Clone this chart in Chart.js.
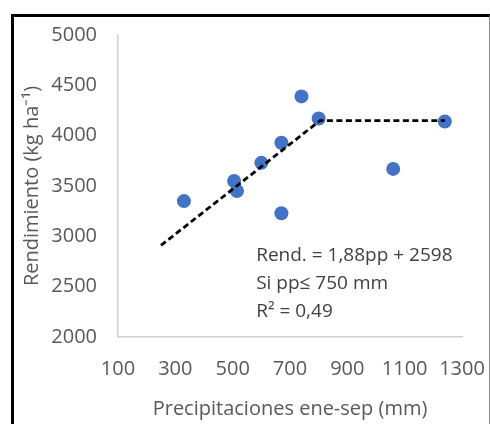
<!DOCTYPE html>
<html>
<head>
<meta charset="utf-8">
<script src="https://cdn.jsdelivr.net/npm/chart.js@4.4.1/dist/chart.umd.min.js"></script>
<style>
  html, body { margin: 0; padding: 0; background: #fff; }
  #wrap { position: relative; width: 490px; height: 424px; overflow: hidden; }
  #frame { position: absolute; left: 11px; top: 14px; width: 475px; height: 420px;
           border-left: 3px solid #000; border-top: 3px solid #000; border-right: 1px solid #888; }
  canvas { position: absolute; left: 0; top: 0; }
</style>
</head>
<body>
<div id="wrap">
  <div id="frame"></div>
  <canvas id="c" width="490" height="424"></canvas>
</div>
<script>
// Observed data (precipitation Jan-Sep, mm ; yield kg/ha)
const precipitation = [330, 505, 515, 600, 670, 670, 740, 800, 1060, 1240];
const yieldValues   = [3350, 3550, 3450, 3730, 3930, 3230, 4390, 4170, 3670, 4140];

// Fitted plateau model line (breakpoints)
const fitX = [250, 805, 1240];
const fitY = [2910, 4150, 4150];

// Axis ticks
const xTicks = [100, 300, 500, 700, 900, 1100, 1300];
const yTicks = [2000, 2500, 3000, 3500, 4000, 4500, 5000];

// Annotation text and its anchor in data units
const annotationLines = ['Rend. = 1,88pp + 2598', 'Si pp\u2264 750 mm', 'R\u00b2 = 0,49'];
const annotationAnchor = { x: 582, y: 2810 };

const FONT = "'Open Sans', sans-serif";
const GRAY = '#595959';

const annotationPlugin = {
  id: 'annot',
  afterDatasetsDraw(chart) {
    const { ctx, scales } = chart;
    const x = scales.x.getPixelForValue(annotationAnchor.x);
    const y0 = scales.y.getPixelForValue(annotationAnchor.y);
    ctx.save();
    ctx.fillStyle = '#404040';
    ctx.font = '19px ' + FONT;
    ctx.textAlign = 'left';
    ctx.textBaseline = 'middle';
    annotationLines.forEach((t, i) => ctx.fillText(t, x, y0 + i * 28));
    ctx.restore();
  }
};

new Chart(document.getElementById('c'), {
  type: 'scatter',
  data: {
    datasets: [
      {
        label: 'Modelo',
        type: 'line',
        data: fitX.map((x, i) => ({ x, y: fitY[i] })),
        borderColor: '#000',
        borderWidth: 2.8,
        borderDash: [6, 3.5],
        pointRadius: 0,
        fill: false,
        tension: 0,
        order: 1
      },
      {
        label: 'Observado',
        data: precipitation.map((x, i) => ({ x, y: yieldValues[i] })),
        backgroundColor: '#4472C4',
        borderColor: '#4472C4',
        borderWidth: 0,
        pointRadius: 7,
        order: 2
      }
    ]
  },
  options: {
    responsive: false,
    animation: false,
    layout: { padding: { top: 35, right: 28, bottom: 0, left: 0 } },
    plugins: { legend: { display: false }, tooltip: { enabled: false } },
    scales: {
      x: {
        type: 'linear',
        min: 100, max: 1300,
        afterBuildTicks: s => { s.ticks = xTicks.map(v => ({ value: v })); },
        afterFit: s => { s.height = 87; s.paddingLeft = 0; s.paddingRight = 0; },
        grid: { display: false, drawTicks: false },
        border: { display: true, color: '#d0d0d0', width: 1.5 },
        ticks: { color: GRAY, font: { family: FONT, size: 20 }, padding: 20, maxRotation: 0,
                 callback: v => String(v) },
        title: { display: true, text: 'Precipitaciones ene-sep (mm)', color: GRAY,
                 font: { family: FONT, size: 20 }, padding: { top: 0, bottom: 3 } }
      },
      y: {
        type: 'linear',
        min: 2000, max: 5000,
        afterBuildTicks: s => { s.ticks = yTicks.map(v => ({ value: v })); },
        afterFit: s => { s.width = 118; },
        grid: { display: false, drawTicks: false },
        border: { display: true, color: '#d0d0d0', width: 1.5 },
        ticks: { color: GRAY, font: { family: FONT, size: 20 }, padding: 21,
                 callback: v => String(v) },
        title: { display: true, text: 'Rendimiento (kg ha\u207b\u00b9)', color: GRAY,
                 font: { family: FONT, size: 20 }, padding: { top: 20, bottom: 0 } }
      }
    }
  },
  plugins: [annotationPlugin]
});
</script>
</body>
</html>
